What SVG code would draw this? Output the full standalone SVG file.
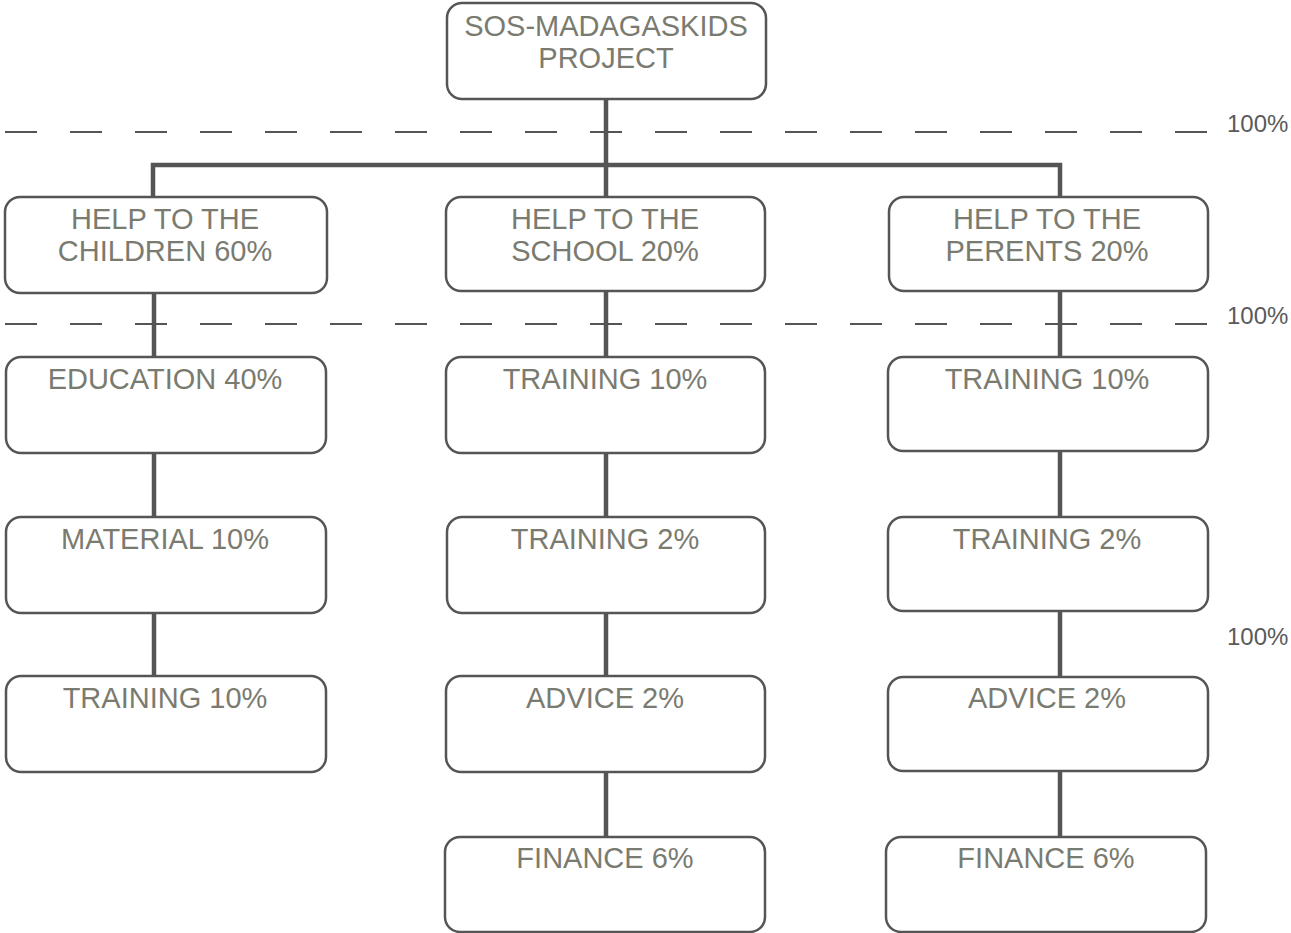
<svg xmlns="http://www.w3.org/2000/svg" width="1291" height="933" viewBox="0 0 1291 933">
<style>
.box{fill:#fff;stroke:#555;stroke-width:2.5}
.t{font-family:"Liberation Sans",Arial,sans-serif;font-size:29px;fill:#7a7b70;text-anchor:middle}
.pct{font-family:"Liberation Sans",Arial,sans-serif;font-size:24px;fill:#5a5a5a}
.dash{stroke:#555;stroke-width:2;stroke-dasharray:32 33;fill:none}
.c{stroke:#555;stroke-width:4.5;fill:none}
</style>
<rect width="1291" height="933" fill="#fff"/>
<g id="guides">
<line class="dash" x1="5" y1="132" x2="1208" y2="132"/>
<line class="dash" x1="5" y1="324" x2="1208" y2="324"/>
<text class="pct" x="1227" y="132">100%</text>
<text class="pct" x="1227" y="324">100%</text>
<text class="pct" x="1227" y="645">100%</text>
</g>
<g id="connectors">
<path class="c" d="M606 99V197M153 196V165H1060V197"/>
<path class="c" d="M154 293V357M154 453V517M154 613V676"/>
<path class="c" d="M606 291V357M606 453V517M606 613V676M606 772V837"/>
<path class="c" d="M1060 291V357M1060 451V517M1060 611V677M1060 771V837"/>
</g>
<g id="root"><rect class="box" x="447" y="3" width="319" height="96" rx="15"/><text class="t" x="606" y="36">SOS-MADAGASKIDS</text><text class="t" x="606" y="68">PROJECT</text></g>
<g id="children"><rect class="box" x="5" y="197" width="322" height="96" rx="15"/><text class="t" x="165" y="229">HELP TO THE</text><text class="t" x="165" y="261">CHILDREN 60%</text></g>
<g id="school"><rect class="box" x="446" y="197" width="319" height="94" rx="15"/><text class="t" x="605" y="229">HELP TO THE</text><text class="t" x="605" y="261">SCHOOL 20%</text></g>
<g id="parents"><rect class="box" x="889" y="197" width="319" height="94" rx="15"/><text class="t" x="1047" y="229">HELP TO THE</text><text class="t" x="1047" y="261">PERENTS 20%</text></g>
<g id="education"><rect class="box" x="6" y="357" width="320" height="96" rx="15"/><text class="t" x="165" y="389">EDUCATION 40%</text></g>
<g id="material"><rect class="box" x="6" y="517" width="320" height="96" rx="15"/><text class="t" x="165" y="549">MATERIAL 10%</text></g>
<g id="training-c"><rect class="box" x="6" y="676" width="320" height="96" rx="15"/><text class="t" x="165" y="708">TRAINING 10%</text></g>
<g id="training-s1"><rect class="box" x="446" y="357" width="319" height="96" rx="15"/><text class="t" x="605" y="389">TRAINING 10%</text></g>
<g id="training-s2"><rect class="box" x="447" y="517" width="318" height="96" rx="15"/><text class="t" x="605" y="549">TRAINING 2%</text></g>
<g id="advice-s"><rect class="box" x="446" y="676" width="319" height="96" rx="15"/><text class="t" x="605" y="708">ADVICE 2%</text></g>
<g id="finance-s"><rect class="box" x="445" y="837" width="320" height="95" rx="15"/><text class="t" x="605" y="868">FINANCE 6%</text></g>
<g id="training-p1"><rect class="box" x="888" y="357" width="320" height="94" rx="15"/><text class="t" x="1047" y="389">TRAINING 10%</text></g>
<g id="training-p2"><rect class="box" x="888" y="517" width="320" height="94" rx="15"/><text class="t" x="1047" y="549">TRAINING 2%</text></g>
<g id="advice-p"><rect class="box" x="888" y="677" width="320" height="94" rx="15"/><text class="t" x="1047" y="708">ADVICE 2%</text></g>
<g id="finance-p"><rect class="box" x="886" y="837" width="320" height="95" rx="15"/><text class="t" x="1046" y="868">FINANCE 6%</text></g>
</svg>
